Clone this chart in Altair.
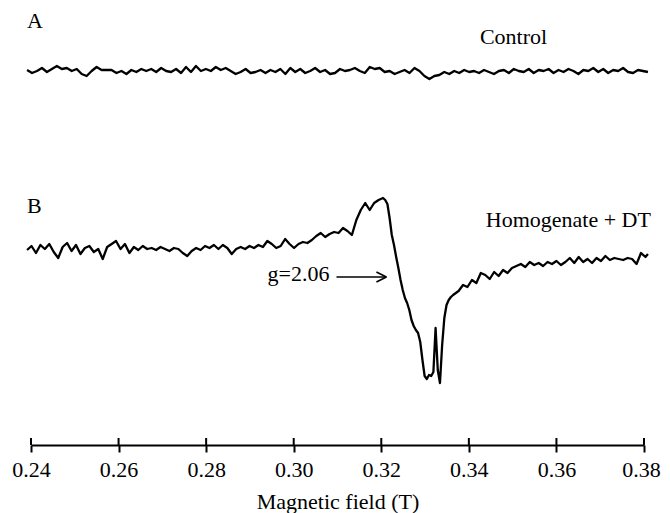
import altair as alt
import numpy as np
import pandas as pd

# ---------------- data ----------------
tick_values = [0.24, 0.26, 0.28, 0.30, 0.32, 0.34, 0.36, 0.38]

# Trace A: control (relative signal, arbitrary units)
a_signal = [1, -2, 0, 3, -1, 2, 5, 2, 3, 0, 2, -3, -5, 0, 4, 1, 1, 1, -2, 0,
            -3, 1, -1, 2, 0, 2, -1, 3, 0, -1, 2, -2, 4, -1, 5, 0, 2, 0, 4, 1,
            3, 0, -3, -1, 2, -2, -1, 1, -2, 1, -1, 2, -3, 3, -1, 2, -2, 0, 3, -1,
            1, -3, -2, 2, 0, 1, 3, 0, -2, 4, 2, 3, -1, 0, -3, -1, 1, -2, 3, 0,
            -5, -8, -5, -4, -1, -3, 0, -2, 1, -1, 0, -2, 1, -1, -3, 0, 1, -2, 2, 0,
            -1, 2, -2, 1, 0, 2, -2, 1, -1, 2, 0, -3, 1, 0, 3, -1, 2, -2, 1, 0,
            3, -1, -2, 1, 0, -1]

# Trace B: homogenate + DT (relative signal, arbitrary units)
b_signal_1 = [0, 4, -3, 5, 1, 6, -2, -8, 3, 7, -1, 5, -4, 2, 4, -2, 1, -9, 3, 6,
              9, 1, 6, -3, 3, 0, 4, 1, 2, 0, 3, 1, -1, 2, 1, -3, -6, -1, 2, 0,
              4, 2, 5, 1, 5, 2, -4, 1, 3, 1, 4, 2, 5, 3, 9, 6, 2, 4, 11, 6,
              2, 6, 8, 7, 10, 14, 17, 13, 16, 18, 17, 22, 19, 15, 30, 40, 47, 40, 47, 50,
              52]
b_signal_2 = [50, 46, 32, 15, 5, -7, -18, -30, -40, -48, -53, -60, -70, -76, -80, -83,
              -92, -110, -126, -129, -125, -126, -122, -78, -120, -133, -95, -68, -55, -50,
              -47, -45]
b_signal_3 = [-41, -35, -37, -30, -33, -23, -25, -29, -22, -26, -20, -23, -18, -16, -14,
              -17, -12, -15, -13, -16, -12, -14, -11, -15, -12, -8, -13, -7, -12, -9,
              -13, -8, -11, -6, -10, -8, -9, -10, -8, -9, -14, -3, -7, -4]

# sampling grids of the scans (tesla)
a_field = np.linspace(0.2391, 0.3809, len(a_signal))
b_field = np.concatenate([
    np.linspace(0.2391, 0.3204, len(b_signal_1)),
    np.linspace(0.3209, 0.3364, len(b_signal_2)),
    np.linspace(0.33765, 0.38033, len(b_signal_3) - 1),
    [0.3809],
])
b_signal = b_signal_1 + b_signal_2 + b_signal_3

# ---------------- layout ----------------
W, H = 613, 437
offsets = {"A": 374, "B": 195}
FONT = "Liberation Serif"

df = pd.concat([
    pd.DataFrame({"field": a_field, "signal": a_signal, "trace": "A"}),
    pd.DataFrame({"field": b_field, "signal": b_signal, "trace": "B"}),
])
df["y"] = df["signal"] + df["trace"].map(offsets)

xscale = alt.Scale(domain=[0.24, 0.38], nice=False, zero=False)
yscale = alt.Scale(domain=[0, H], nice=False, zero=False)

lines = alt.Chart(df).mark_line(color="black", strokeWidth=2.3, strokeJoin="round").encode(
    x=alt.X("field:Q", scale=xscale,
            axis=alt.Axis(values=tick_values, format=".2f", title="Magnetic field (T)",
                          grid=False, domainColor="black", domainWidth=2,
                          tickColor="black", tickWidth=2, tickSize=7,
                          labelFont=FONT, labelFontSize=22, labelColor="black",
                          labelPadding=7, labelFlush=False,
                          labelOffset={"condition": {"test": "datum.value > 0.379", "value": -3}, "value": 0},
                          titleFont=FONT, titleFontSize=22, titleFontWeight="normal",
                          titleColor="black", titlePadding=11)),
    y=alt.Y("y:Q", scale=yscale, axis=None),
    detail="trace:N",
    order="field:Q",
)

# upper half of the crossing ticks
tick_df = pd.DataFrame({"field": tick_values})
ticks_up = alt.Chart(tick_df).mark_rule(color="black", strokeWidth=2).encode(
    x=alt.X("field:Q", scale=xscale),
    y=alt.value(H - 7),
    y2=alt.value(H),
)

# annotations
ann = [
    ("A", 0.23909, 417, "left"),
    ("B", 0.23909, 232, "left"),
    ("Control", 0.35020, 401, "center"),
    ("Homogenate + DT", 0.38158, 218, "right"),
    ("g=2.06", 0.30817, 164, "right"),
]
text_layers = []
for txt, fx, vy, al in ann:
    tdf = pd.DataFrame({"field": [fx], "y": [vy], "text": [txt]})
    text_layers.append(
        alt.Chart(tdf).mark_text(font=FONT, fontSize=22, color="black", align=al,
                                 baseline="alphabetic").encode(
            x=alt.X("field:Q", scale=xscale),
            y=alt.Y("y:Q", scale=yscale),
            text="text:N",
        )
    )

arrow_df = pd.DataFrame({
    "x": [0.30977, 0.31889, 0.31889],
    "x2": [0.32117, 0.32117, 0.32117],
    "y": [168, 173, 163],
    "y2": [168, 168, 168],
})
arrow = alt.Chart(arrow_df).mark_rule(color="black", strokeWidth=1.5).encode(
    x=alt.X("x:Q", scale=xscale),
    x2="x2:Q",
    y=alt.Y("y:Q", scale=yscale),
    y2="y2:Q",
)

chart = alt.layer(lines, ticks_up, arrow, *text_layers).properties(
    width=W, height=H,
    autosize=alt.AutoSizeParams(type="none"),
    padding={"left": 23, "top": 0, "right": 18, "bottom": 68},
    background="white",
).configure_view(stroke=None)

chart.save("out.html", embed_options={"renderer": "svg", "actions": False})
